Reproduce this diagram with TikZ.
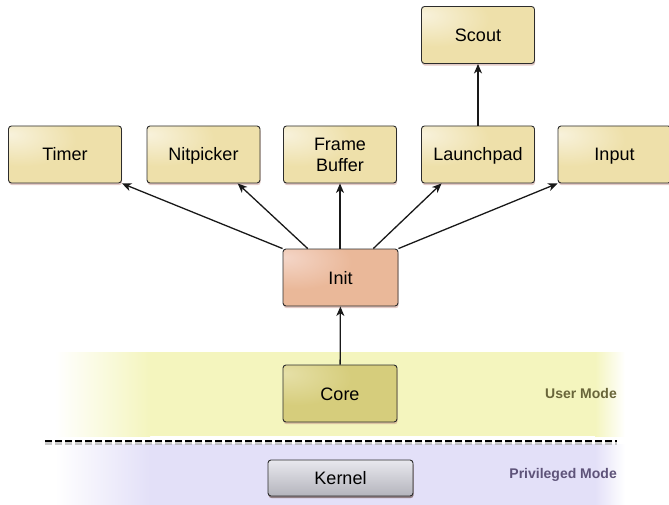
\documentclass[tikz,border=0pt]{standalone}
\usepackage{fontspec}
\setmainfont{Liberation Sans}
\usetikzlibrary{arrows.meta,shadows,calc}

% palette
\definecolor{boxline}{HTML}{2C2C2C}
\definecolor{appbase}{HTML}{EEE0AA}
\definecolor{apphi}{HTML}{F8F2DC}
\definecolor{initbase}{HTML}{EAB899}
\definecolor{inithi}{HTML}{F4D6C8}
\definecolor{corebase}{HTML}{D6CD7C}
\definecolor{corehi}{HTML}{E6E0A8}
\definecolor{kerntop}{HTML}{E8E8EE}
\definecolor{kernbot}{HTML}{B4B4BC}
\definecolor{userband}{HTML}{F4F5BE}
\definecolor{privband}{HTML}{E3E0F8}
\definecolor{usertext}{HTML}{69653A}
\definecolor{privtext}{HTML}{5E5379}
\definecolor{shadowtint}{HTML}{C08A80}

% soft highlight near the upper left of each box
\pgfdeclareradialshading{appshade}{\pgfpoint{-25bp}{18bp}}%
  {color(0bp)=(apphi); color(24bp)=(appbase); color(70bp)=(appbase); color(100bp)=(appbase!94!black)}
\pgfdeclareradialshading{initshade}{\pgfpoint{-25bp}{18bp}}%
  {color(0bp)=(inithi); color(24bp)=(initbase); color(70bp)=(initbase); color(100bp)=(initbase!94!black)}
\pgfdeclareradialshading{coreshade}{\pgfpoint{-25bp}{18bp}}%
  {color(0bp)=(corehi); color(24bp)=(corebase); color(70bp)=(corebase); color(100bp)=(corebase!94!black)}

\begin{document}
\begin{tikzpicture}[x=1pt,y=-1pt,
  compbox/.style={draw=boxline, line width=0.9pt, rounded corners=3pt,
    minimum width=113pt, minimum height=57pt, inner sep=0pt, align=center,
    font=\fontsize{18}{21}\selectfont,
    drop shadow={shadow xshift=0.6pt, shadow yshift=-2.2pt, fill=shadowtint, opacity=0.45}},
  oneline/.style={text height=13pt, text depth=0pt},
  appbox/.style={compbox, shade, shading=appshade},
  initbox/.style={compbox, oneline, shade, shading=initshade, minimum width=115pt},
  corebox/.style={compbox, oneline, shade, shading=coreshade, minimum width=114pt},
  kernbox/.style={compbox, oneline, top color=kerntop, bottom color=kernbot,
    minimum width=145pt, minimum height=36pt,
    drop shadow={shadow xshift=0.6pt, shadow yshift=-2pt, fill=black, opacity=0.3}},
  arr/.style={line width=1.3pt, draw=black!90,
    -{Stealth[length=9.5pt,width=8pt,inset=2.8pt]}},
  modelabel/.style={anchor=east, inner sep=0pt, font=\bfseries\fontsize{14}{16}\selectfont}
]
\useasboundingbox (0,0) rectangle (669,505);
\clip (0,0) rectangle (669,505);

% user mode band
\fill[left color=white, right color=userband] (55,352) rectangle (150,436);
\fill[userband] (149.5,352) rectangle (595.5,436);
\fill[left color=userband, right color=white] (595,352) rectangle (625,436);

% privileged mode band
\fill[left color=white, right color=privband] (55,444) rectangle (150,505);
\fill[privband] (149.5,444) rectangle (595.5,505);
\fill[left color=privband, right color=white] (595,444) rectangle (625,505);

% boundary between the two modes
\coordinate (sepL) at (45,441);
\coordinate (sepR) at (617,441);
\draw[black!35, opacity=0.6, line width=3pt, dash pattern=on 7pt off 3pt]
  ([yshift=-2.5pt]sepL) -- ([yshift=-2.5pt]sepR);
\draw[black, line width=2.2pt, dash pattern=on 7pt off 3pt] (sepL) -- (sepR);

% components
\node[appbox, oneline] (timer)  at (65,154.5)   {Timer};
\node[appbox, oneline] (nitp)   at (203.5,154.5) {Nitpicker};
\node[appbox] (fb)     at (340,154.5)  {Frame\\Buffer};
\node[appbox, oneline] (launch) at (478,154.5)  {Launchpad};
\node[appbox, oneline] (input)  at (614.5,154.5) {Input};
\node[appbox, oneline] (scout)  at (478,35)     {Scout};
\node[initbox] (init)  at (340.5,277.5) {Init};
\node[corebox] (core)  at (340,393.5)  {Core};
\node[kernbox] (kernel) at (340.5,478) {Kernel};

% mode labels
\node[modelabel, text=usertext] (userlbl) at (617,393) {User Mode};
\node[modelabel, text=privtext] (privlbl) at (617,475) {Privileged Mode};

% parent/child connections
\draw[arr] (core) -- (init);
\draw[arr] (launch) -- (scout);
\draw[arr] (init.north west) -- (timer.south east);
\draw[arr] ($(init.north west)!0.217!(init.north east)$) -- ($(nitp.south west)!0.8!(nitp.south east)$);
\draw[arr] (init.north -| fb.south) -- (fb.south);
\draw[arr] ($(init.north west)!0.783!(init.north east)$) -- ($(launch.south west)!0.18!(launch.south east)$);
\draw[arr] (init.north east) -- (input.south west);
\end{tikzpicture}
\end{document}
